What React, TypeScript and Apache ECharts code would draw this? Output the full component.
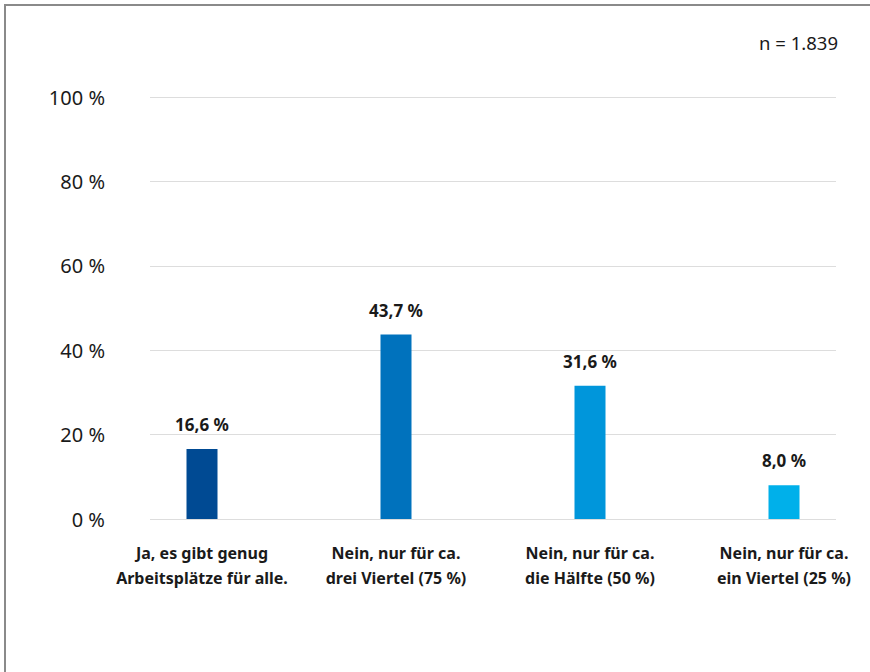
import React, { useEffect, useRef } from "react";
import * as echarts from "echarts";

const categories = [
  "Ja, es gibt genug\nArbeitsplätze für alle.",
  "Nein, nur für ca.\ndrei Viertel (75 %)",
  "Nein, nur für ca.\ndie Hälfte (50 %)",
  "Nein, nur für ca.\nein Viertel (25 %)",
];
const values = [16.6, 43.7, 31.6, 8.0];
const barColors = ["#004a93", "#0072bd", "#0096db", "#00b0ea"];
const yTicks = [0, 20, 40, 60, 80, 100];
const sampleNote = "n = 1.839";

const FONT = "'Noto Sans', sans-serif";

export default function App() {
  const ref = useRef<HTMLDivElement>(null);
  useEffect(() => {
    if (!ref.current) return;
    const chart = echarts.init(ref.current, null, { renderer: "svg" });
    chart.setOption({
      animation: false,
      backgroundColor: "#ffffff",
      textStyle: { fontFamily: FONT },
      grid: [
        { left: 105, width: 776, top: 97, bottom: 153, containLabel: false, outerBoundsMode: "none" },
        { left: 150, right: 34, top: 97, bottom: 153, containLabel: false, outerBoundsMode: "none" },
      ],
      xAxis: [
        {
          type: "category",
          gridIndex: 0,
          data: categories,
          axisLine: { show: false },
          axisTick: { show: false },
          axisLabel: {
            interval: 0,
            margin: 21,
            fontFamily: FONT,
            fontSize: 16,
            fontWeight: "bold",
            color: "#1a1a1a",
            lineHeight: 25,
          },
        },
        { type: "category", gridIndex: 1, data: categories, show: false },
      ],
      yAxis: [
        {
          type: "value",
          gridIndex: 0,
          min: 0,
          max: 100,
          interval: 20,
          show: false,
        },
        {
          type: "value",
          gridIndex: 1,
          min: yTicks[0],
          max: yTicks[yTicks.length - 1],
          interval: 20,
          axisLine: { show: false },
          axisTick: { show: false },
          splitLine: { lineStyle: { color: "#dddddd", width: 1 } },
          axisLabel: {
            margin: 45,
            fontFamily: FONT,
            fontSize: 20,
            color: "#1a1a1a",
            formatter: (v: number) => `${v} %`,
          },
        },
      ],
      series: [
        {
          type: "bar",
          xAxisIndex: 0,
          yAxisIndex: 0,
          barWidth: 31,
          data: values.map((v, i) => ({ value: v, itemStyle: { color: barColors[i] } })),
          label: {
            show: true,
            position: "top",
            distance: 16,
            fontFamily: FONT,
            fontSize: 17,
            fontWeight: "bold",
            color: "#1a1a1a",
            formatter: (p: any) => `${p.value.toFixed(1).replace(".", ",")} %`,
          },
        },
      ],
      graphic: [
        {
          type: "polyline",
          shape: { points: [[5, 680], [5, 5], [880, 5]] },
          style: { stroke: "#8a8a8a", lineWidth: 2, fill: "none" },
        },
        {
          type: "text",
          right: 32,
          top: 33,
          style: { text: sampleNote, fontFamily: FONT, fontSize: 18.5, fill: "#1a1a1a" },
        },
      ],
    });
    return () => chart.dispose();
  }, []);
  return (
    <div
      ref={ref}
      style={{ position: "absolute", left: 0, top: 0, width: 870, height: 672 }}
    />
  );
}
